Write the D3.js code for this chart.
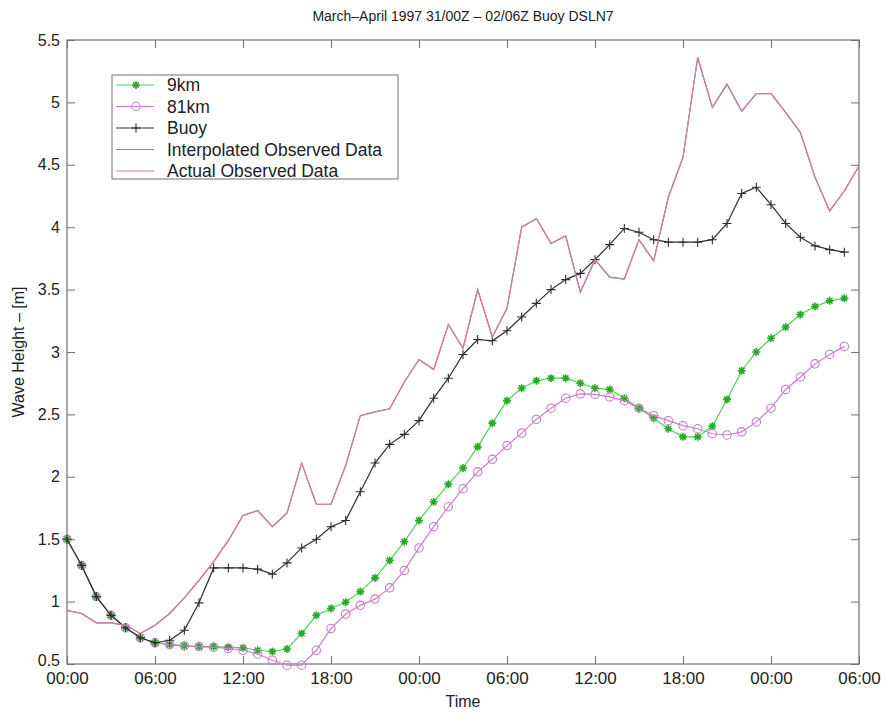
<!DOCTYPE html>
<html>
<head>
<meta charset="utf-8">
<script src="https://cdn.jsdelivr.net/npm/d3@7"></script>
<style>
  body { margin: 0; background: #fff; }
  svg text { font-family: "Liberation Sans", Arial, Helvetica, sans-serif; fill: #222; }
</style>
</head>
<body>
<div id="chart"></div>
<script>
// hourly values, 31/00Z onward
const km9 = [1.5, 1.29, 1.04, 0.89, 0.79, 0.71, 0.67, 0.655, 0.645, 0.64, 0.64, 0.635, 0.63, 0.61,
    0.60, 0.62, 0.745, 0.89, 0.945, 0.995, 1.08, 1.19, 1.33, 1.48, 1.65, 1.80, 1.94, 2.07, 2.24,
    2.43, 2.61, 2.71, 2.77, 2.79, 2.79, 2.75, 2.71, 2.70, 2.63, 2.55, 2.47, 2.385, 2.32, 2.32,
    2.405, 2.62, 2.85, 3.0, 3.11, 3.2, 3.3, 3.365, 3.41, 3.43];
const km81 = [1.5, 1.29, 1.04, 0.89, 0.79, 0.71, 0.67, 0.655, 0.645, 0.64, 0.635, 0.625, 0.61, 0.58,
    0.53, 0.49, 0.49, 0.61, 0.785, 0.9, 0.97, 1.02, 1.11, 1.25, 1.43, 1.60, 1.76, 1.905, 2.04,
    2.14, 2.25, 2.35, 2.46, 2.55, 2.63, 2.665, 2.66, 2.64, 2.61, 2.55, 2.49, 2.45, 2.41, 2.385,
    2.345, 2.335, 2.36, 2.44, 2.55, 2.70, 2.80, 2.905, 2.98, 3.045];
const buoy = [1.5, 1.29, 1.04, 0.89, 0.79, 0.71, 0.67, 0.69, 0.77, 0.99, 1.27, 1.27, 1.27, 1.26,
    1.22, 1.31, 1.43, 1.5, 1.6, 1.65, 1.88, 2.11, 2.26, 2.34, 2.45, 2.63, 2.79, 2.98, 3.1, 3.09,
    3.17, 3.28, 3.39, 3.5, 3.58, 3.63, 3.74, 3.86, 3.99, 3.96, 3.9, 3.88, 3.88, 3.88, 3.9, 4.03,
    4.27, 4.32, 4.18, 4.03, 3.92, 3.85, 3.82, 3.8];
const observed = [0.93, 0.905, 0.83, 0.83, 0.81, 0.745, 0.81, 0.905, 1.03, 1.17, 1.32, 1.49, 1.69,
    1.73, 1.60, 1.71, 2.11, 1.78, 1.78, 2.09, 2.49, 2.52, 2.545, 2.76, 2.94, 2.86, 3.22, 3.03,
    3.50, 3.12, 3.35, 4.0, 4.07, 3.87, 3.93, 3.48, 3.74, 3.60, 3.585, 3.9, 3.73, 4.24, 4.56,
    5.36, 4.96, 5.145, 4.93, 5.07, 5.07, 4.92, 4.76, 4.40, 4.13, 4.29, 4.49];

const tickHours = [0, 6, 12, 18, 24, 30, 36, 42, 48, 54];
const tickLabels = ["00:00", "06:00", "12:00", "18:00", "00:00", "06:00", "12:00", "18:00", "00:00", "06:00"];
const yTicks = [0.5, 1, 1.5, 2, 2.5, 3, 3.5, 4, 4.5, 5, 5.5];
const legendLabels = ["9km", "81km", "Buoy", "Interpolated Observed Data", "Actual Observed Data"];

const W = 886, H = 719;
const margin = {top: 40, right: 27, bottom: 55, left: 67};
const innerW = W - margin.left - margin.right,
    innerH = H - margin.top - margin.bottom;

const svg = d3.select("#chart").append("svg")
    .attr("width", W)
    .attr("height", H);

const g = svg.append("g")
    .attr("transform", "translate(" + margin.left + "," + margin.top + ")");

const x = d3.scaleLinear().domain([0, 54]).range([0, innerW]);
const y = d3.scaleLinear().domain([0.5, 5.5]).range([innerH, 0]);

const axisColor = "#707070";

// axes, matlab style: ticks inside, on all four sides
function styleAxis(sel, size) {
    sel.select(".domain").remove();
    sel.selectAll(".tick line").attr("stroke", axisColor);
    sel.selectAll("text").style("font-size", (size || 16) + "px").attr("fill", "#222");
}

g.append("g")
    .attr("transform", "translate(0," + innerH + ")")
    .call(d3.axisBottom(x).tickValues(tickHours).tickFormat((d, i) => tickLabels[i])
        .tickSizeInner(-8).tickSizeOuter(0).tickPadding(8))
    .call(styleAxis, 17);

g.append("g")
    .call(d3.axisTop(x).tickValues(tickHours).tickFormat("").tickSizeInner(-8).tickSizeOuter(0))
    .call(styleAxis);

const yAxisG = g.append("g")
    .call(d3.axisLeft(y).tickValues(yTicks).tickFormat(d3.format("~g"))
        .tickSizeInner(-8).tickSizeOuter(0).tickPadding(7))
    .call(styleAxis, 16);
// lift the bottom label a little so it clears the 00:00 label
yAxisG.selectAll(".tick text").filter(d => d === 0.5).attr("dy", "0.1em");

g.append("g")
    .attr("transform", "translate(" + innerW + ",0)")
    .call(d3.axisRight(y).tickValues(yTicks).tickFormat("").tickSizeInner(-8).tickSizeOuter(0))
    .call(styleAxis);

g.append("rect")
    .attr("width", innerW)
    .attr("height", innerH)
    .attr("fill", "none")
    .attr("stroke", axisColor)
    .attr("stroke-width", 1.2);

const line = d3.line().x((d, i) => x(i)).y(d => y(d));

const series = [
    {name: "9km", values: km9, color: "#4fd34f", mark: "star", markColor: "#26aa26"},
    {name: "81km", values: km81, color: "#d07ad0", mark: "circle", markColor: "#c47cc4"},
    {name: "Buoy", values: buoy, color: "#2e2e2e", mark: "plus", markColor: "#2e2e2e"},
    {name: "Interpolated Observed Data", values: observed, color: "#8080d4", mark: null},
    {name: "Actual Observed Data", values: observed, color: "#d27d91", mark: null}
];

const markPaths = {
    star: "M-4,0L4,0M0,-4L0,4M-2.8,-2.8L2.8,2.8M-2.8,2.8L2.8,-2.8",
    plus: "M-4.5,0L4.5,0M0,-4.5L0,4.5"
};

function drawMark(sel, s) {
    if (s.mark === "circle") {
        sel.append("circle").attr("r", 4.2)
            .attr("fill", "none").attr("stroke", s.markColor).attr("stroke-width", 1.1);
    } else if (s.mark) {
        sel.append("path").attr("d", markPaths[s.mark])
            .attr("fill", "none").attr("stroke", s.markColor)
            .attr("stroke-width", s.mark === "star" ? 1.6 : 1.1);
    }
}

series.forEach(s => {
    g.append("path")
        .datum(s.values)
        .attr("fill", "none")
        .attr("stroke", s.color)
        .attr("stroke-width", 1.2)
        .attr("d", line);

    if (s.mark) {
        g.append("g").selectAll("g")
            .data(s.values)
            .enter().append("g")
            .attr("transform", (d, i) => "translate(" + x(i) + "," + y(d) + ")")
            .each(function() { drawMark(d3.select(this), s); });
    }
});

// legend
const legend = g.append("g").attr("transform", "translate(45,35)");
legend.append("rect")
    .attr("width", 286)
    .attr("height", 104)
    .attr("fill", "#fff")
    .attr("stroke", axisColor);

const rows = legend.selectAll(".row")
    .data(series)
    .enter().append("g")
    .attr("class", "row")
    .attr("transform", (d, i) => "translate(0," + (10 + i * 21.5) + ")");

rows.append("line")
    .attr("x1", 4).attr("x2", 42)
    .attr("stroke", d => d.color)
    .attr("stroke-width", 1.2);

rows.each(function(d) {
    if (d.mark) drawMark(d3.select(this).append("g").attr("transform", "translate(24,0)"), d);
});

rows.append("text")
    .attr("x", 55)
    .attr("dy", "0.35em")
    .style("font-size", "17.5px")
    .text((d, i) => legendLabels[i]);

// titles
svg.append("text")
    .attr("x", margin.left + innerW / 2)
    .attr("y", 21)
    .attr("text-anchor", "middle")
    .style("font-size", "14px")
    .text("March\u2013April 1997 31/00Z \u2013 02/06Z Buoy DSLN7");

svg.append("text")
    .attr("x", margin.left + innerW / 2)
    .attr("y", 707)
    .attr("text-anchor", "middle")
    .style("font-size", "16px")
    .text("Time");

svg.append("text")
    .attr("transform", "translate(24," + (margin.top + innerH / 2) + ") rotate(-90)")
    .attr("text-anchor", "middle")
    .style("font-size", "16px")
    .text("Wave Height \u2013 [m]");
</script>
</body>
</html>
